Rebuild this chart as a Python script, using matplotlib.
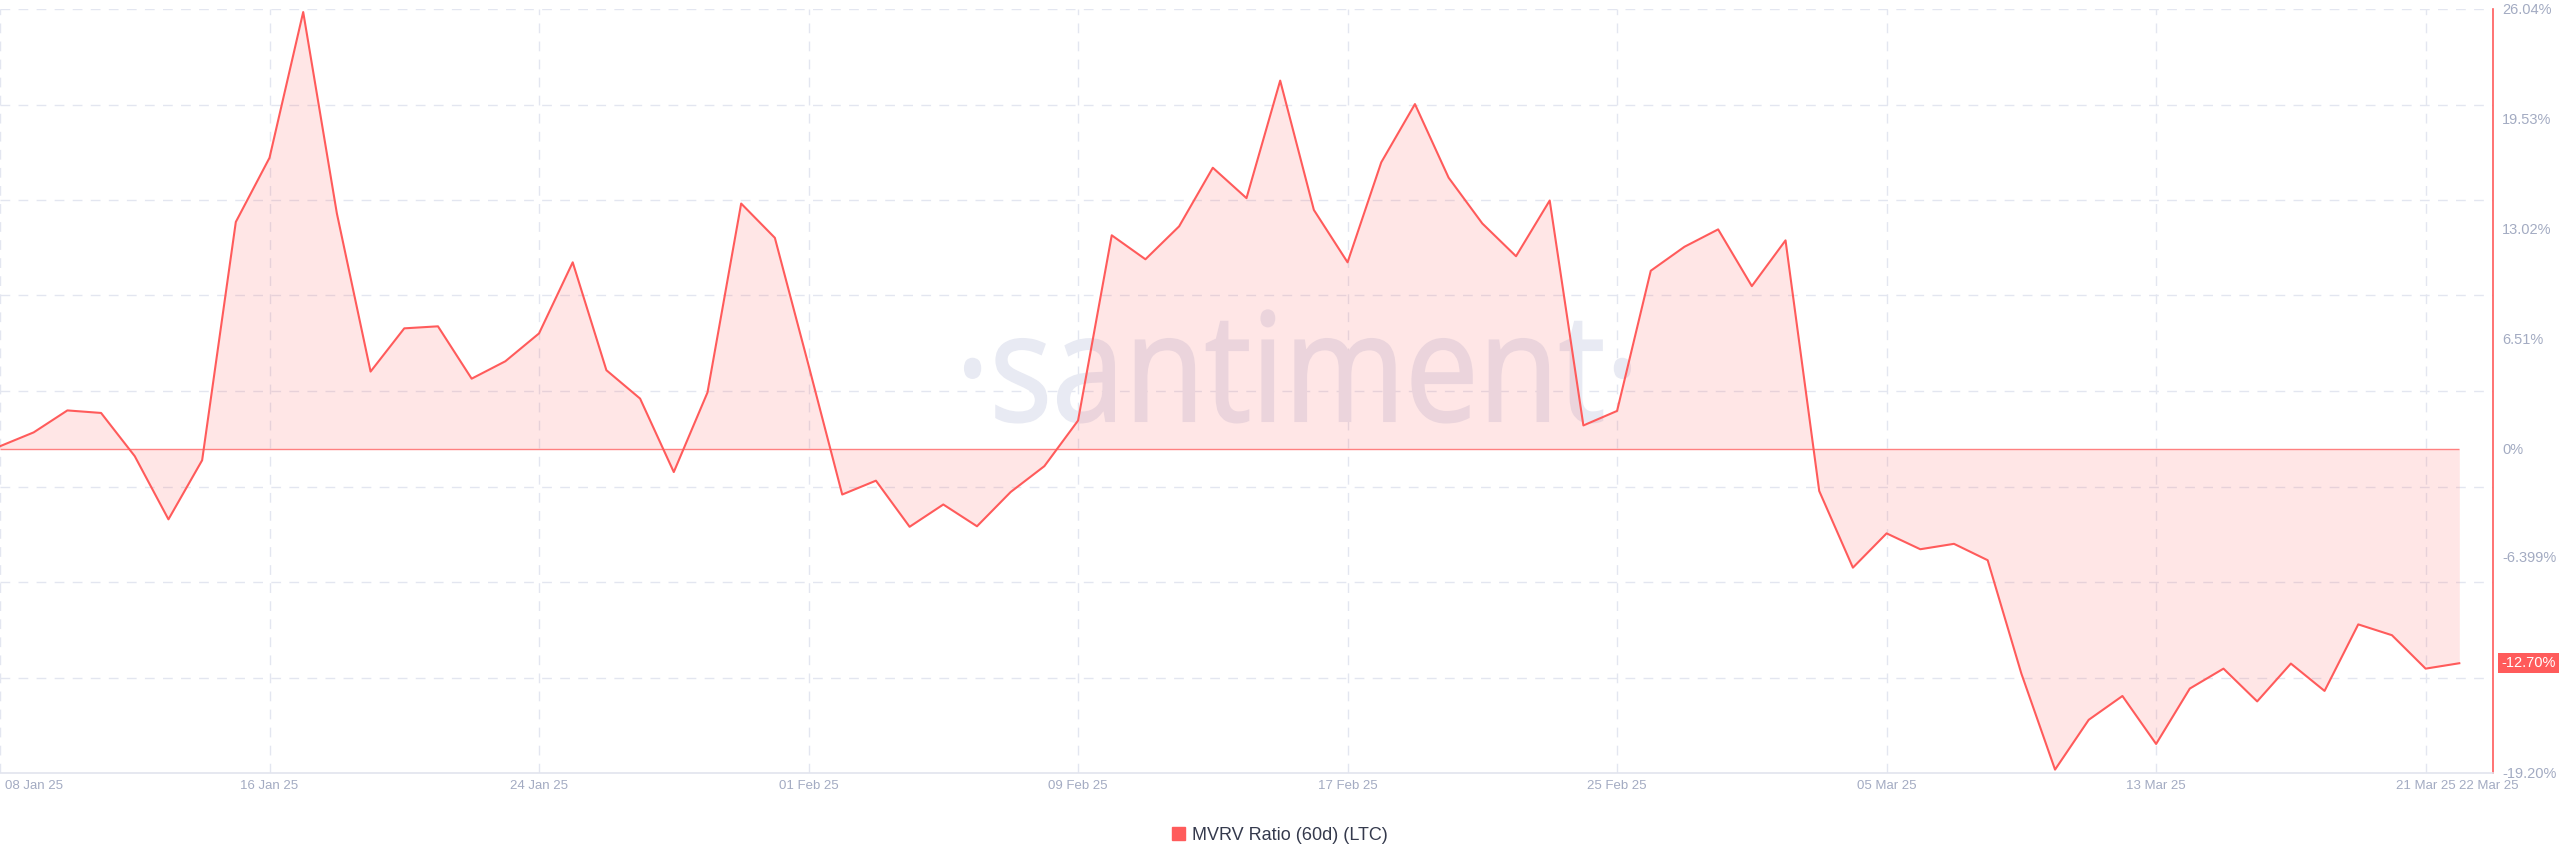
import numpy as np
import pandas as pd
import matplotlib
matplotlib.use("Agg")
import matplotlib.pyplot as plt
from matplotlib.patches import Patch, PathPatch
from matplotlib.textpath import TextPath
from matplotlib.font_manager import FontProperties
from matplotlib.transforms import Affine2D, ScaledTranslation

# MVRV Ratio (60d) for LTC, daily, 08 Jan 25 .. 22 Mar 25
dates = pd.date_range("2025-01-08", "2025-03-22", freq="D")
mvrv = [
    0.15, 0.97, 2.27, 2.12, -0.44, -4.18, -0.68, 13.43, 17.23, 25.86,
    13.93, 4.57, 7.13, 7.25, 4.15, 5.18, 6.83, 11.04, 4.65, 2.97,
    -1.38, 3.33, 14.52, 12.49, 4.95, -2.71, -1.89, -4.62, -3.30, -4.59,
    -2.56, -1.03, 1.67, 12.64, 11.22, 13.17, 16.64, 14.84, 21.80, 14.14,
    11.04, 16.96, 20.41, 16.05, 13.34, 11.40, 14.70, 1.38, 2.24, 10.54,
    11.96, 12.99, 9.63, 12.34, -2.50, -7.04, -5.01, -5.95, -5.63, -6.60,
    -13.31, -19.00, -16.05, -14.64, -17.48, -14.20, -13.02, -14.96, -12.72, -14.34,
    -10.40, -11.04, -13.02, -12.70,
]

tick_dates = pd.to_datetime([
    "2025-01-08", "2025-01-16", "2025-01-24", "2025-02-01", "2025-02-09",
    "2025-02-17", "2025-02-25", "2025-03-05", "2025-03-13", "2025-03-21", "2025-03-22",
])
tick_labels = ["08 Jan 25", "16 Jan 25", "24 Jan 25", "01 Feb 25", "09 Feb 25",
               "17 Feb 25", "25 Feb 25", "05 Mar 25", "13 Mar 25", "21 Mar 25", "22 Mar 25"]

y_ticks = [26.04, 19.53, 13.02, 6.51, 0, -6.399, -19.20]
y_labels = ["26.04%", "19.53%", "13.02%", "6.51%", "0%", "-6.399%", "-19.20%"]
y_min, y_max = -19.20, 26.04
last_label = "-12.70%"

RED = "#ff5b5b"
GRID = "#e3e6f0"
TXT = "#a3abc2"

plt.rcParams["font.family"] = ["Liberation Sans", "DejaVu Sans"]

W, H = 2560, 867
fig = plt.figure(figsize=(W / 100, H / 100), dpi=100)
ax = fig.add_axes([0, 1 - 773 / H, 2493 / W, (773 - 9) / H])

ax.set_xlim(dates[0], dates[-1] + pd.Timedelta(days=1))
ax.set_ylim(y_min, y_max)

# grid: horizontal lines evenly split the range, vertical at date ticks
for g in np.linspace(y_min, y_max, 9)[1:]:
    ax.axhline(g, color=GRID, lw=1, ls=(0, (7, 6)), zorder=0)
for d in tick_dates[:-1]:
    ax.axvline(d, color=GRID, lw=1, ls=(0, (7, 6)), zorder=0)

# watermark, condensed, sits under the fill
fp = FontProperties(family="Open Sans")
tp = TextPath((0, 0), "\u00b7santiment\u00b7", size=1, prop=fp)
xh = TextPath((0, 0), "n", size=1, prop=fp).get_extents().y1
ext = tp.get_extents()
x0, x1, base, xheight = 965, 1630, 421, 82
sx = (x1 - x0) / ext.width
sy = xheight / xh
tr = (Affine2D().translate(-ext.x0, 0).scale(sx, sy)
      .translate(x0, H - base).scale(1 / W, 1 / H)) + fig.transFigure
ax.add_patch(PathPatch(tp, transform=tr, facecolor="#e8eaf3", edgecolor="#e8eaf3",
                       lw=1.5, zorder=0.5))

ax.fill_between(dates, mvrv, 0, color=RED, alpha=0.15, lw=0, zorder=1)
ax.hlines(0, dates[0], dates[-1], color="#ff8080", lw=1, zorder=2)
ax.plot(dates, mvrv, color=RED, lw=1.5, zorder=3)

for s in ["left", "top"]:
    ax.spines[s].set_visible(False)
ax.spines["right"].set_color(RED)
ax.spines["right"].set_linewidth(1.2)
ax.spines["bottom"].set_color("#e1e4ee")
ax.spines["bottom"].set_linewidth(1.2)

ax.yaxis.tick_right()
ax.set_yticks(y_ticks)
ax.set_yticklabels(y_labels)
ax.tick_params(axis="y", length=0, pad=6.5, labelsize=10.5, labelcolor=TXT)

ax.set_xticks(tick_dates)
ax.set_xticklabels(tick_labels)
ax.tick_params(axis="x", length=0, pad=5, labelsize=9.5, labelcolor=TXT)
xl = ax.get_xticklabels()
xl[0].set_ha("left")
xl[0].set_transform(xl[0].get_transform() + ScaledTranslation(5 / 100, 0, fig.dpi_scale_trans))
xl[-1].set_ha("left")

# current value tag
ax.annotate(last_label, xy=(1, mvrv[-1]), xycoords=("axes fraction", "data"),
            xytext=(6, 0), textcoords="offset points", va="center", ha="left",
            fontsize=10.5, color="white",
            bbox=dict(boxstyle="square,pad=0.2", fc=RED, ec="none"), annotation_clip=False)

fig.legend(handles=[Patch(color=RED, label="MVRV Ratio (60d) (LTC)")], loc="center",
           bbox_to_anchor=(0.5, 1 - 835 / H), frameon=False, fontsize=13,
           handlelength=0.7, handleheight=0.7, handletextpad=0.4, labelcolor="#353a4d")

fig.savefig("out.png", dpi=100)
